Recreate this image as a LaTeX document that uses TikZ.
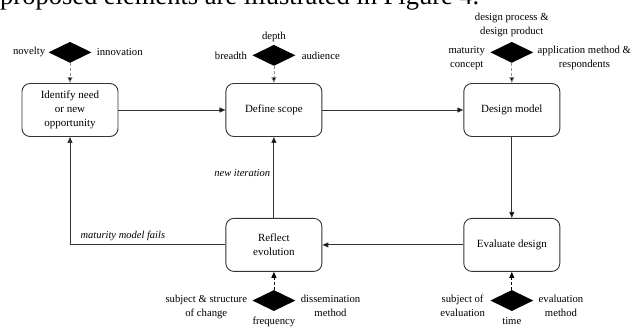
\documentclass[tikz,border=0pt]{standalone}
\usepackage{fontspec}
\setmainfont{Liberation Serif}
\usetikzlibrary{arrows.meta, shapes.geometric, positioning}

\begin{document}
\begin{tikzpicture}[x=1pt, y=1pt, >={Triangle[length=6pt, width=5pt]}, stage/.style={rectangle, rounded corners=8pt, draw=black!80, line width=0.9pt, align=center, minimum width=96pt, minimum height=53pt, font=\fontsize{11}{14}\selectfont}, gate/.style={diamond, fill=black, inner sep=0pt, minimum width=43pt, minimum height=21pt}, elem/.style={align=center, inner sep=1pt, font=\fontsize{10.7}{14}\selectfont}, note/.style={font=\fontsize{10.5}{12}\selectfont\itshape}, flow/.style={->, line width=0.9pt, draw=black!80}, feed/.style={->, line width=0.8pt, dash pattern=on 3pt off 2pt}]

            \useasboundingbox (0,0) rectangle (641,-329);
            \clip (0,0) rectangle (641,-329);

            \node[anchor=base west, inner sep=0pt, font=\fontsize{26.5}{30}\selectfont] (caption) at (0,-5) {proposed elements are illustrated in Figure 4.};

            \node[stage] (Q1) at (70,-110) {Identify need\\or new\\opportunity};
            \node[stage, right=107pt of Q1] (Q2) {Define scope};
            \node[stage, right=141pt of Q2] (Q3) {Design model};
            \node[stage, below=81pt of Q3] (Q4) {Evaluate design};
            \node[stage, below=81pt of Q2] (Q5) {Reflect\\evolution};

            \node[gate, above=20pt of Q1] (D1) {};
            \node[gate, above=17pt of Q2] (D2) {};
            \node[gate, above=20pt of Q3] (D3) {};
            \node[gate, below=18pt of Q4] (D4) {};
            \node[gate, below=18pt of Q5] (D5) {};

            \node[elem, left=2pt of D1] (novelty) {novelty};
            \node[elem, right=4pt of D1] (innovation) {innovation};
            \node[elem, left=4pt of D2] (breadth) {breadth};
            \node[elem, right=5pt of D2] (audience) {audience};
            \node[elem, above=2pt of D2] (depth) {depth};
            \node[elem, above=4pt of D3] (process) {design process \&\\design product};
            \node[elem, below left=-7pt and 4pt of D3.west] (concept) {maturity\\concept};
            \node[elem, below right=-7pt and 3pt of D3.east] (application) {application method \&\\respondents};
            \node[elem, below left=-7pt and 4pt of D4.west] (subject) {subject of\\evaluation};
            \node[elem, below right=-7pt and 4pt of D4.east] (method) {evaluation\\method};
            \node[elem, below=5pt of D4] (time) {time};
            \node[elem, below left=-7pt and 4pt of D5.west] (change) {subject \& structure\\of change};
            \node[elem, below right=-7pt and 4pt of D5.east] (dissemination) {dissemination\\method};
            \node[elem, below=5pt of D5] (frequency) {frequency};

            \path[flow]
            (Q1) edge (Q2)
            (Q2) edge (Q3)
            (Q3) edge (Q4)
            (Q4) edge (Q5)
            (Q5) edge node[note, left, pos=0.55] {new iteration} (Q2)
            ;
            \draw[flow] (Q5.west) -| node[note, above, pos=0.33] {maturity model fails} (Q1.south);

            \path[feed, draw=black!45]
            (D1) edge (Q1)
            (D2) edge (Q2)
            (D3) edge (Q3)
            ;
            \path[feed]
            (D4) edge (Q4)
            (D5) edge (Q5)
            ;

        \end{tikzpicture}
\end{document}
